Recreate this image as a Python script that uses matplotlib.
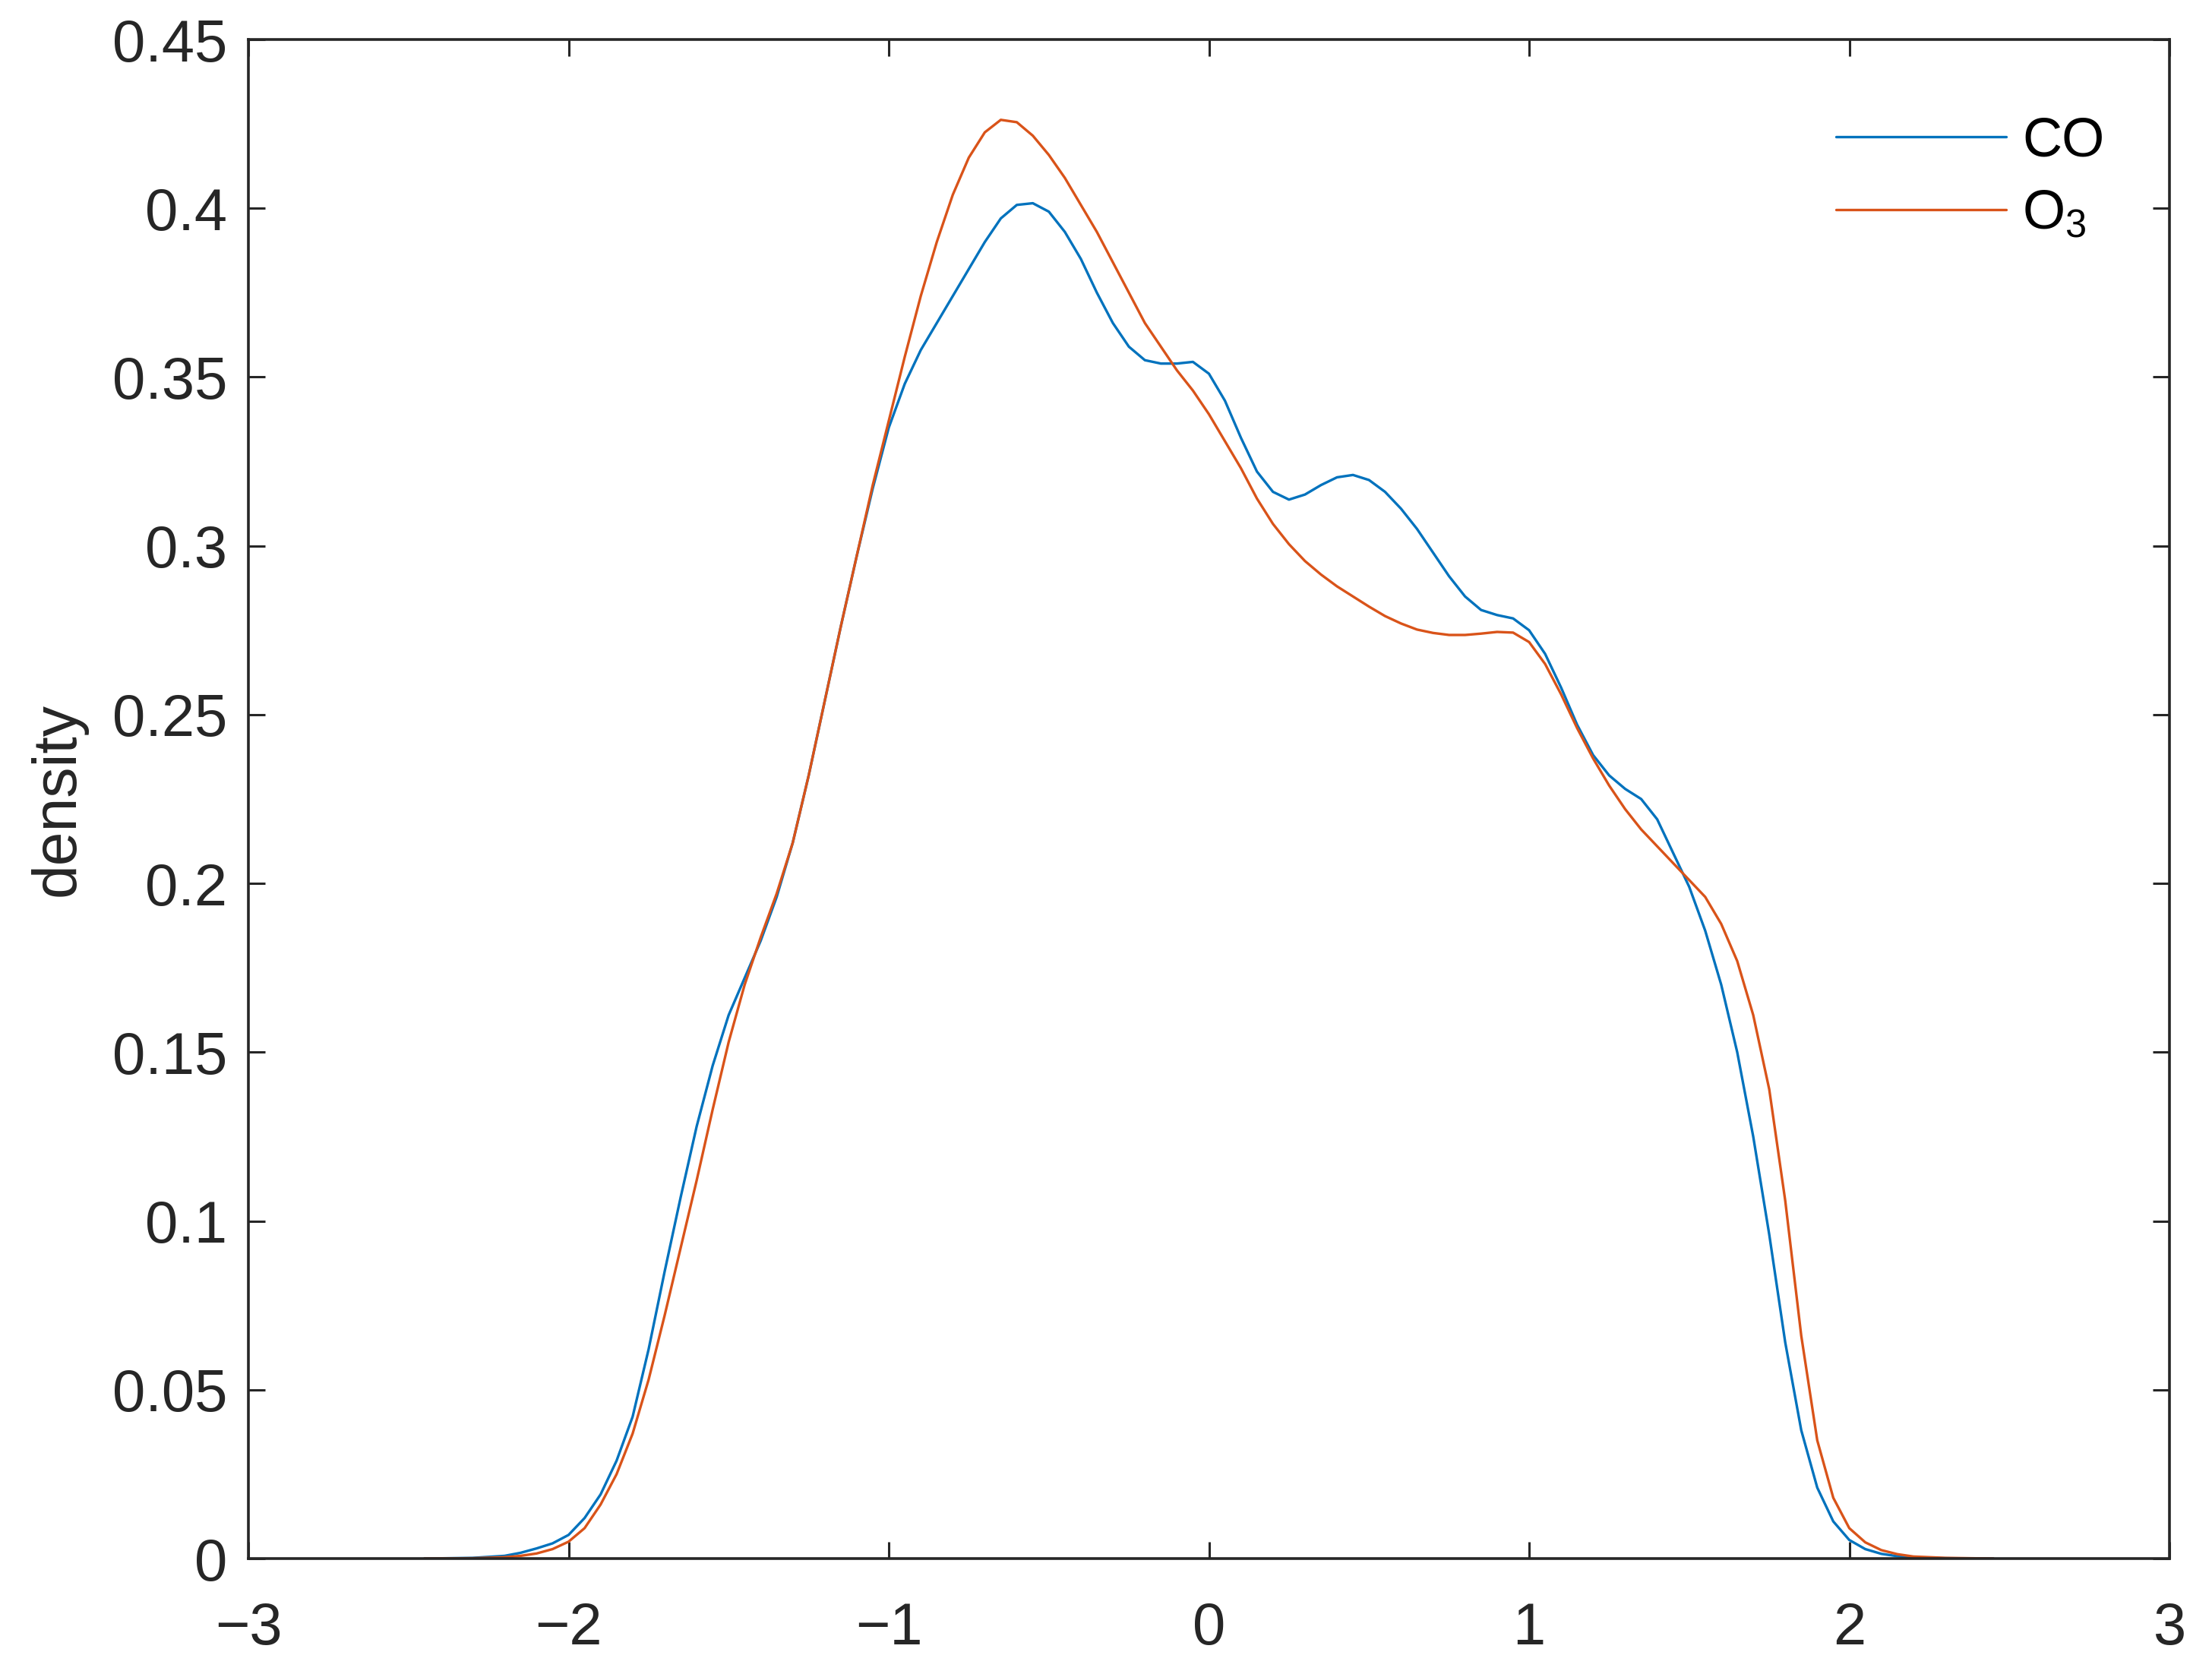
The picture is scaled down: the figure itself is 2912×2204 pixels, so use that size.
import matplotlib
matplotlib.use("Agg")
import matplotlib.pyplot as plt

plt.rcParams['font.family'] = ['Liberation Sans', 'DejaVu Sans']
plt.rcParams['mathtext.fontset'] = 'custom'
plt.rcParams['mathtext.rm'] = 'Liberation Sans'
plt.rcParams['mathtext.default'] = 'regular'

x_vals = [-2.45, -2.3,
          -2.2, -2.15, -2.1, -2.05, -2.0, -1.95, -1.9, -1.85, -1.8, -1.75,
          -1.7, -1.65, -1.6, -1.55, -1.5, -1.45, -1.4, -1.35, -1.3, -1.25,
          -1.2, -1.15, -1.1, -1.05, -1.0, -0.95, -0.9, -0.85, -0.8, -0.75,
          -0.7, -0.65, -0.6, -0.55, -0.5, -0.45, -0.4, -0.35, -0.3, -0.25,
          -0.2, -0.15, -0.1, -0.05, 0.0, 0.05, 0.1, 0.15, 0.2, 0.25,
          0.3, 0.35, 0.4, 0.45, 0.5, 0.55, 0.6, 0.65, 0.7, 0.75,
          0.8, 0.85, 0.9, 0.95, 1.0, 1.05, 1.1, 1.15, 1.2, 1.25,
          1.3, 1.35, 1.4, 1.45, 1.5, 1.55, 1.6, 1.65, 1.7, 1.75,
          1.8, 1.85, 1.9, 1.95, 2.0, 2.05, 2.1, 2.15, 2.2,
          2.3, 2.45]

co_density = [0.0, 0.0002,
              0.0008, 0.0017, 0.003, 0.0045, 0.007, 0.012, 0.019, 0.029, 0.042, 0.062,
              0.085, 0.107, 0.128, 0.146, 0.161, 0.172, 0.183, 0.196, 0.212, 0.232,
              0.254, 0.276, 0.297, 0.317, 0.335, 0.348, 0.358, 0.366, 0.374, 0.382,
              0.390, 0.397, 0.401, 0.4015, 0.399, 0.393, 0.385, 0.375, 0.366, 0.359,
              0.355, 0.354, 0.354, 0.3545, 0.351, 0.343, 0.332, 0.322, 0.316, 0.3137,
              0.3152, 0.318, 0.3203, 0.321, 0.3195, 0.316, 0.311, 0.305, 0.298, 0.291,
              0.285, 0.281, 0.2795, 0.2785, 0.275, 0.268, 0.258, 0.247, 0.238, 0.232,
              0.228, 0.225, 0.219, 0.209, 0.199, 0.186, 0.170, 0.150, 0.125, 0.096,
              0.064, 0.038, 0.021, 0.011, 0.0055, 0.0028, 0.0014, 0.0007, 0.0003,
              0.0001, 0.0]

o3_density = [0.0, 0.0001,
              0.0004, 0.0008, 0.0015, 0.0028, 0.005, 0.009, 0.016, 0.025, 0.037, 0.053,
              0.072, 0.092, 0.112, 0.133, 0.153, 0.170, 0.184, 0.197, 0.212, 0.232,
              0.254, 0.276, 0.297, 0.318, 0.337, 0.356, 0.374, 0.390, 0.404, 0.415,
              0.4225, 0.4262, 0.4255, 0.4215, 0.4158, 0.409, 0.401, 0.393, 0.384, 0.375,
              0.366, 0.359, 0.352, 0.346, 0.339, 0.331, 0.323, 0.314, 0.3065, 0.3005,
              0.2955, 0.2915, 0.288, 0.285, 0.282, 0.2792, 0.277, 0.2752, 0.2742, 0.2736,
              0.2736, 0.274, 0.2745, 0.2743, 0.2715, 0.265, 0.256, 0.246, 0.237, 0.229,
              0.222, 0.216, 0.211, 0.206, 0.201, 0.196, 0.188, 0.177, 0.161, 0.139,
              0.106, 0.066, 0.035, 0.018, 0.009, 0.0048, 0.0025, 0.0013, 0.0006,
              0.0002, 0.0]

series_labels = ['CO', 'O$_{3}$']
series_colors = ['#0072BD', '#D95319']
x_ticks = [-3, -2, -1, 0, 1, 2, 3]
y_ticks = [0, 0.05, 0.1, 0.15, 0.2, 0.25, 0.3, 0.35, 0.4, 0.45]
y_tick_labels = ['0', '0.05', '0.1', '0.15', '0.2', '0.25', '0.3', '0.35', '0.4', '0.45']

fig = plt.figure(figsize=(14.56, 11.02), dpi=200)
ax = fig.add_axes([327/2912, 1 - 2052/2204, (2856-327)/2912, (2052-52)/2204])

for ys, lab, col in zip([co_density, o3_density], series_labels, series_colors):
    ax.plot(x_vals, ys, color=col, lw=1.2, label=lab,
            solid_joinstyle='round', solid_capstyle='round')

ax.set_xlim(-3, 3)
ax.set_ylim(0, 0.45)
ax.set_xticks(x_ticks)
ax.set_yticks(y_ticks)
ax.set_yticklabels(y_tick_labels)

dark = '#262626'
for s in ax.spines.values():
    s.set_linewidth(1.3)
    s.set_color(dark)
ax.tick_params(direction='in', length=8, width=1.1, colors=dark,
               labelsize=28, top=True, right=True)
ax.tick_params(axis='x', pad=20)
ax.tick_params(axis='y', pad=10)
ax.set_ylabel('density', fontsize=29, color=dark, labelpad=12)

leg = ax.legend(loc='upper right', frameon=False, fontsize=26,
                handlelength=3.1, handletextpad=0.3, labelspacing=0.4,
                bbox_to_anchor=(0.992, 0.982))
for t in leg.get_texts():
    t.set_color('black')

fig.savefig('out.png', dpi=200, facecolor='white')
